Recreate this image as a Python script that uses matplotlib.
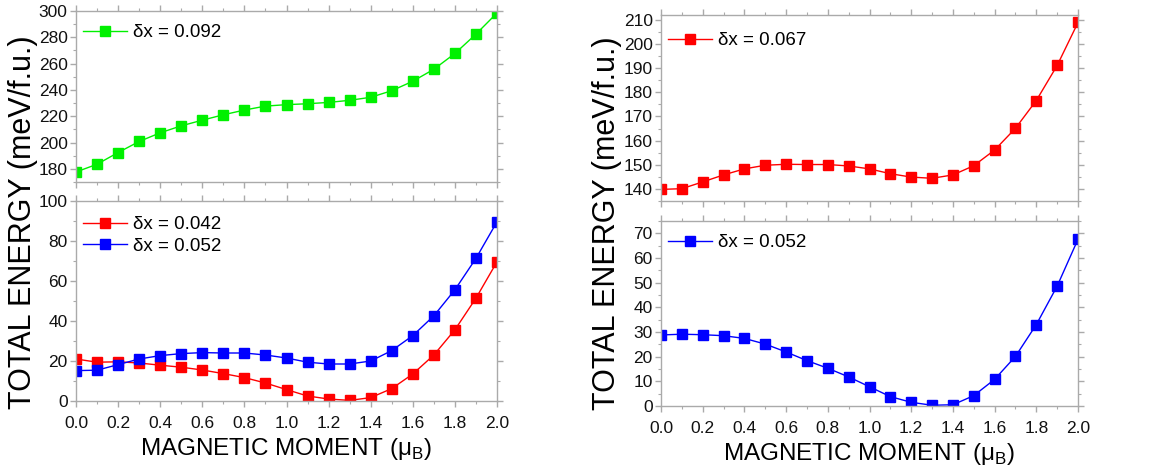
import matplotlib
matplotlib.use("Agg")
import matplotlib.pyplot as plt
from matplotlib.ticker import MultipleLocator, FormatStrFormatter

plt.rcParams['font.family'] = ['Liberation Sans', 'DejaVu Sans']
plt.rcParams['mathtext.fontset'] = 'custom'
plt.rcParams['mathtext.rm'] = 'Liberation Sans'

moment = [0.0, 0.1, 0.2, 0.3, 0.4, 0.5, 0.6, 0.7, 0.8, 0.9, 1.0,
          1.1, 1.2, 1.3, 1.4, 1.5, 1.6, 1.7, 1.8, 1.9, 2.0]

# left panel, top: dx = 0.092
e_092 = [177.6, 183.5, 192.4, 200.8, 207.4, 212.7, 217.0, 221.1, 224.7, 227.7, 228.8,
         229.5, 230.5, 232.1, 234.4, 239.4, 246.6, 255.7, 267.7, 282.4, 298.5]
# left panel, bottom: dx = 0.042 and dx = 0.052
e_042 = [21.0, 19.4, 19.6, 19.0, 17.9, 16.9, 15.5, 13.7, 11.7, 9.0, 5.7,
         2.5, 1.0, 0.3, 1.7, 6.2, 13.5, 23.0, 35.6, 51.4, 69.6]
e_052a = [15.2, 15.4, 18.2, 21.0, 22.7, 23.7, 24.2, 24.0, 24.0, 23.0, 21.5,
          19.4, 18.5, 18.5, 20.0, 25.2, 32.7, 42.6, 55.6, 71.3, 89.6]
# right panel, top: dx = 0.067
e_067 = [139.8, 140.1, 142.9, 145.8, 148.3, 149.8, 150.2, 150.1, 150.1, 149.5, 148.3,
         146.3, 144.9, 144.4, 145.8, 149.6, 156.1, 165.1, 176.6, 191.1, 208.9]
# right panel, bottom: dx = 0.052
e_052b = [28.8, 29.1, 28.9, 28.5, 27.4, 25.1, 21.9, 18.4, 15.3, 11.8, 7.8,
          3.8, 1.5, 0.3, 0.5, 4.2, 10.8, 20.1, 33.0, 48.6, 67.6]

GREEN = '#00f000'
RED = '#ff0000'
BLUE = '#0000ff'
SPINE = '#aaaaaa'

W, H = 1163, 475
fig = plt.figure(figsize=(W / 100, H / 100), dpi=100)


def px_axes(x0, x1, y0, y1):
    return fig.add_axes([x0 / W, 1 - y1 / H, (x1 - x0) / W, (y1 - y0) / H])


ax_tl = px_axes(76, 497, 11, 182)
ax_bl = px_axes(76, 497, 201, 401)
ax_tr = px_axes(661, 1078, 15, 201)
ax_br = px_axes(661, 1078, 221, 406)


def style(ax, ylim, ymajor, bottom_labels):
    ax.set_xlim(0, 2.0)
    ax.set_ylim(*ylim)
    ax.xaxis.set_major_locator(MultipleLocator(0.2))
    ax.xaxis.set_minor_locator(MultipleLocator(0.1))
    ax.xaxis.set_major_formatter(FormatStrFormatter('%.1f'))
    ax.yaxis.set_major_locator(MultipleLocator(ymajor))
    ax.yaxis.set_minor_locator(MultipleLocator(ymajor / 2))
    for s in ax.spines.values():
        s.set_color(SPINE)
        s.set_linewidth(1.0)
    ax.tick_params(which='both', direction='out', top=True, right=True,
                   color=SPINE, labelsize=12.5, labelcolor='#111111')
    ax.tick_params(which='major', length=4, width=1.0)
    ax.tick_params(which='minor', length=2.5, width=0.8)
    ax.tick_params(axis='y', pad=2)
    ax.tick_params(axis='x', pad=6.5, labelbottom=bottom_labels)
    if bottom_labels:
        ax.set_xlabel('MAGNETIC MOMENT (μ$_\\mathregular{B}$)', fontsize=17.5, labelpad=4)


def curve(ax, y, color, label):
    ax.plot(moment, y, color=color, lw=1.0, marker='s', ms=7.2,
            mfc=color, mec=color, label=label)


def legend(ax, top_px, h_px):
    ax.legend(loc='upper left', bbox_to_anchor=(0.017, 1 - top_px / h_px),
              frameon=False, fontsize=13.5, borderpad=0, borderaxespad=0,
              handlelength=2.35, handletextpad=0.3, labelspacing=0.23,
              numpoints=1)


curve(ax_tl, e_092, GREEN, 'δx = 0.092')
style(ax_tl, (170, 300), 20, False)
legend(ax_tl, 13, 171)

curve(ax_bl, e_042, RED, 'δx = 0.042')
curve(ax_bl, e_052a, BLUE, 'δx = 0.052')
style(ax_bl, (0, 100), 20, True)
legend(ax_bl, 15, 200)

curve(ax_tr, e_067, RED, 'δx = 0.067')
style(ax_tr, (135, 212), 10, False)
legend(ax_tr, 17, 186)

curve(ax_br, e_052b, BLUE, 'δx = 0.052')
style(ax_br, (0, 75), 10, True)
legend(ax_br, 13, 185)

fig.text(23 / W, 1 - 222 / H, 'TOTAL ENERGY (meV/f.u.)', rotation=90,
         ha='center', va='center', fontsize=22)
fig.text(607 / W, 1 - 223 / H, 'TOTAL ENERGY (meV/f.u.)', rotation=90,
         ha='center', va='center', fontsize=22)

fig.savefig('out.png', dpi=100)
